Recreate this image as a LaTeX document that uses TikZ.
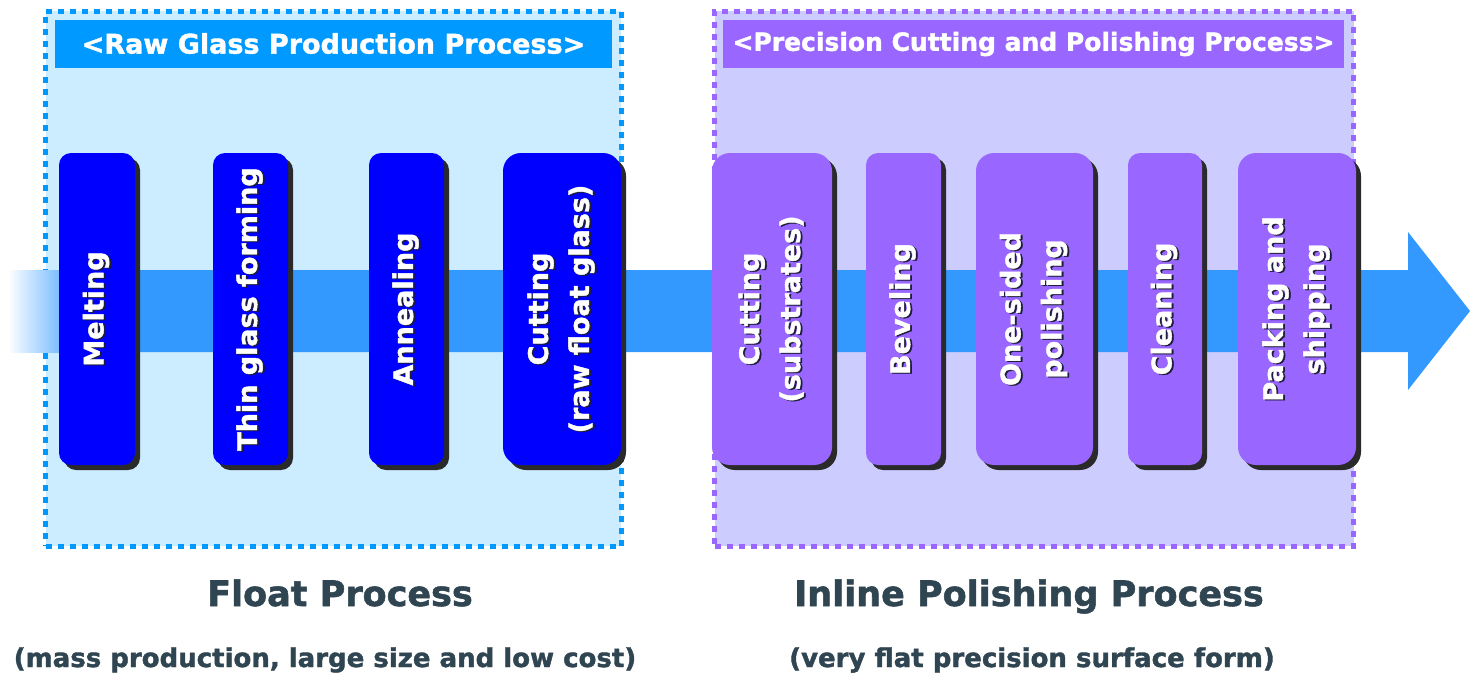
\documentclass[tikz,border=0pt]{standalone}
\usepackage{fontspec}
\setmainfont{DejaVu Sans}[BoldFeatures={FakeBold=1.5}]
\usetikzlibrary{shadows, positioning}

\definecolor{rawfill}{HTML}{CCECFF}
\definecolor{rawblue}{HTML}{0099FF}
\definecolor{stepblue}{HTML}{0000FF}
\definecolor{polfill}{HTML}{CCCCFF}
\definecolor{polpurple}{HTML}{9966FF}
\definecolor{flowblue}{HTML}{3399FF}
\definecolor{boxshadow}{HTML}{2A2A2A}
\definecolor{txtshadow}{HTML}{1E1E3C}
\definecolor{captext}{HTML}{2F4551}

% white label with a small dark shadow
\newcommand\shtxt[1]{\leavevmode\rlap{\kern-1pt\raisebox{-1.8pt}{\color{txtshadow}#1}}#1}

\begin{document}
\begin{tikzpicture}[x=1pt, y=-1pt,
  stageframe/.style={rectangle, line width=5pt, dash pattern=on 6pt off 6pt, minimum height=535pt, inner sep=0pt},
  stagehead/.style={rectangle, minimum height=48pt, inner sep=0pt, text=white},
  stepbox/.style={rectangle, rounded corners=12pt, minimum height=312pt, inner sep=0pt,
    drop shadow={shadow xshift=5pt, shadow yshift=-5pt, fill=boxshadow, opacity=1}},
  widebox/.style={stepbox, rounded corners=18pt},
  steplabel/.style={rotate=90, text=white, align=center, inner sep=0pt, font=\bfseries\fontsize{27}{41}\selectfont},
  caption/.style={text=captext, inner sep=0pt, anchor=base, font=\bfseries\fontsize{35}{40}\selectfont},
  subcaption/.style={text=captext, inner sep=0pt, anchor=base, font=\bfseries\fontsize{26}{30}\selectfont}
]
\useasboundingbox (0,0) rectangle (1470,675);

% Stage frames
\node[stageframe, fill=rawfill, draw=rawblue, minimum width=575.5pt] (rawframe) at (333.25,278.5) {};
\node[stageframe, fill=polfill, draw=polpurple, minimum width=639pt] (polframe) at (1034,278.5) {};

% Stage headers
\node[stagehead, fill=rawblue, minimum width=557pt, font=\bfseries\fontsize{27}{32}\selectfont] (rawhead) at (333.5,43.5) {<Raw Glass Production Process>};
\node[stagehead, fill=polpurple, minimum width=621pt, font=\bfseries\fontsize{25}{30}\selectfont] (polhead) at (1033.5,44) {<Precision Cutting and Polishing Process>};

% Flow arrow
\shade[left color=white, right color=flowblue!65] (8,270) rectangle (60,352);
\fill[flowblue] (59,270) -- (1408,270) -- (1408,232) -- (1470,311) -- (1408,390) -- (1408,352) -- (59,352) -- cycle;

% Float process steps
\node[stepbox, fill=stepblue, minimum width=76pt] (melt) at (97,309) {};
\node[stepbox, fill=stepblue, minimum width=75pt] (thin) at (250.5,309) {};
\node[stepbox, fill=stepblue, minimum width=75pt] (anneal) at (406.5,309) {};
\node[widebox, fill=stepblue, minimum width=118pt] (cutraw) at (562,309) {};

% Inline polishing steps
\node[widebox, fill=polpurple, minimum width=120pt] (cutsub) at (772,309) {};
\node[stepbox, fill=polpurple, minimum width=75pt] (bevel) at (903.5,309) {};
\node[widebox, fill=polpurple, minimum width=117pt] (polish) at (1034.5,309) {};
\node[stepbox, fill=polpurple, minimum width=74pt] (clean) at (1165,309) {};
\node[widebox, fill=polpurple, minimum width=118pt] (pack) at (1297,309) {};

% Step labels
\node[steplabel] (melt-t) at (melt) {\shtxt{Melting}};
\node[steplabel] (thin-t) at (thin) {\shtxt{Thin glass forming}};
\node[steplabel] (anneal-t) at (anneal) {\shtxt{Annealing}};
\node[steplabel] (cutraw-t) at (cutraw) {\shtxt{Cutting}\\\shtxt{(raw float glass)}};
\node[steplabel] (cutsub-t) at (cutsub) {\shtxt{Cutting}\\\shtxt{(substrates)}};
\node[steplabel] (bevel-t) at (bevel) {\shtxt{Beveling}};
\node[steplabel] (polish-t) at (polish) {\shtxt{One-sided}\\\shtxt{polishing}};
\node[steplabel] (clean-t) at (clean) {\shtxt{Cleaning}};
\node[steplabel] (pack-t) at (pack) {\shtxt{Packing and}\\\shtxt{shipping}};

% Captions
\node[caption] (floatcap) at (340,606) {Float Process};
\node[subcaption] (floatsub) at (325,667) {(mass production, large size and low cost)};
\node[caption] (inlinecap) at (1029,606) {Inline Polishing Process};
\node[subcaption] (inlinesub) at (1032,667) {(very flat precision surface form)};

\end{tikzpicture}
\end{document}
